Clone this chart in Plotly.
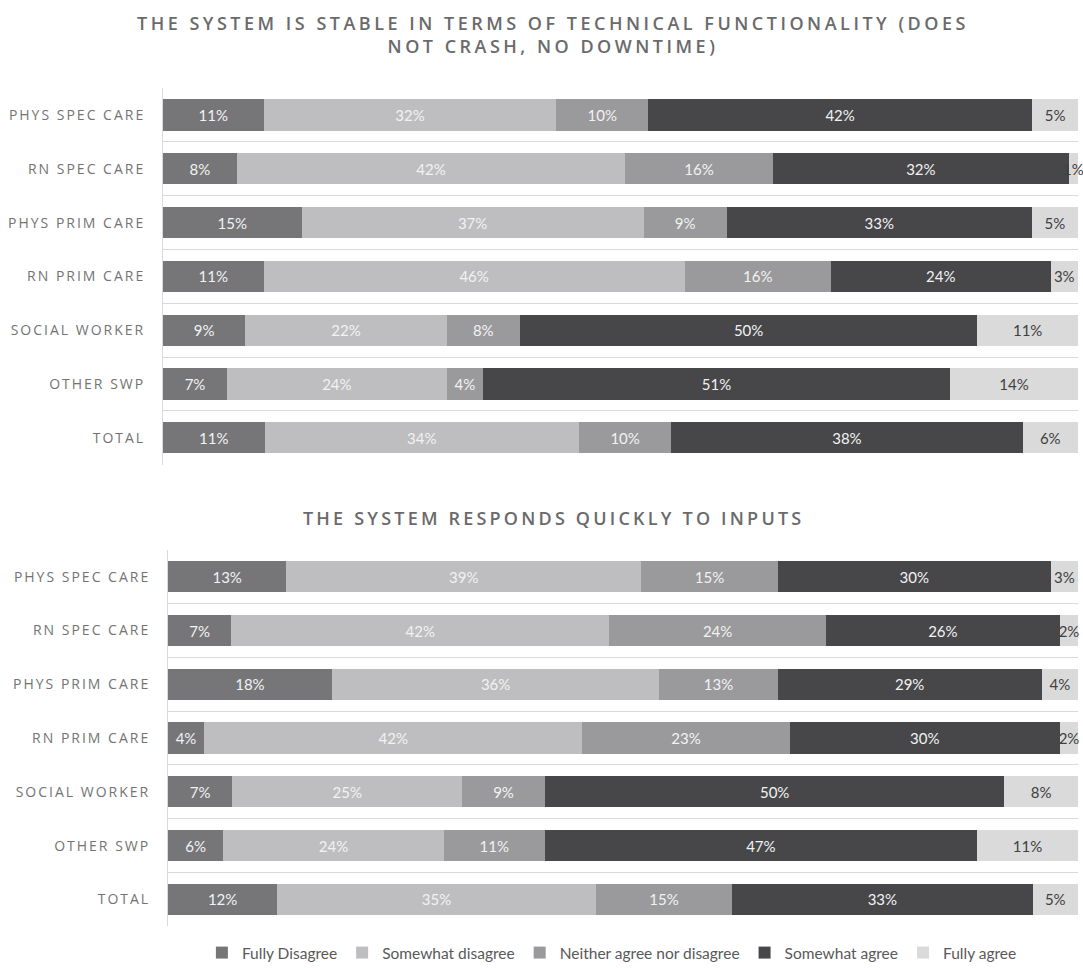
import plotly.graph_objects as go

categories = ["PHYS SPEC CARE", "RN SPEC CARE", "PHYS PRIM CARE", "RN PRIM CARE",
              "SOCIAL WORKER", "OTHER SWP", "TOTAL"]
series_names = ["Fully Disagree", "Somewhat disagree", "Neither agree nor disagree",
                "Somewhat agree", "Fully agree"]

# Panel 1: stability
stable_fully_disagree = [11, 8, 15, 11, 9, 7, 11]
stable_somewhat_disagree = [32, 42, 37, 46, 22, 24, 34]
stable_neither = [10, 16, 9, 16, 8, 4, 10]
stable_somewhat_agree = [42, 32, 33, 24, 50, 51, 38]
stable_fully_agree = [5, 1, 5, 3, 11, 14, 6]

# Panel 2: response speed
quick_fully_disagree = [13, 7, 18, 4, 7, 6, 12]
quick_somewhat_disagree = [39, 42, 36, 42, 25, 24, 35]
quick_neither = [15, 24, 13, 23, 9, 11, 15]
quick_somewhat_agree = [30, 26, 29, 30, 50, 47, 33]
quick_fully_agree = [3, 2, 4, 2, 8, 11, 5]

title1_lines = ["THE SYSTEM IS STABLE IN TERMS OF TECHNICAL FUNCTIONALITY (DOES",
                "NOT CRASH, NO DOWNTIME)"]
title2_lines = ["THE SYSTEM RESPONDS QUICKLY TO INPUTS"]

colors = ["#767679", "#bebec0", "#9a9a9c", "#47474a", "#dadada"]
text_colors = ["#f2f2f2", "#f2f2f2", "#f2f2f2", "#f2f2f2", "#404040"]

panel1 = [stable_fully_disagree, stable_somewhat_disagree, stable_neither,
          stable_somewhat_agree, stable_fully_agree]
panel2 = [quick_fully_disagree, quick_somewhat_disagree, quick_neither,
          quick_somewhat_agree, quick_fully_agree]


def spaced(s, px):
    return f'<span style="letter-spacing:{px}px">{s}</span>'


fig = go.Figure()
for axi, panel in [(1, panel1), (2, panel2)]:
    for i, (name, vals) in enumerate(zip(series_names, panel)):
        fig.add_trace(go.Bar(
            y=categories, x=vals, name=name, orientation="h",
            marker=dict(color=colors[i], line=dict(width=0)),
            text=[f"{v}%" for v in vals], textposition="inside",
            insidetextanchor="middle", constraintext="none", textangle=0,
            textfont=dict(family="Lato", size=15, color=text_colors[i]),
            legendgroup=name, showlegend=(axi == 2),
            xaxis="x" if axi == 1 else "x2", yaxis="y" if axi == 1 else "y2",
            hoverinfo="skip", cliponaxis=False,
        ))

W, H = 1083, 970


def xd(a, b):
    return [a / W, b / W]


def yd(top, bottom):
    return [(H - bottom) / H, (H - top) / H]


axis_font = dict(family="Open Sans", size=14, color="#737373")
common_x = dict(showticklabels=False, showgrid=False, zeroline=False,
                showline=False, fixedrange=True)
common_y = dict(type="category", categoryorder="array",
                categoryarray=categories, autorange="reversed",
                tickmode="array", tickvals=categories,
                ticktext=[spaced(c, 2) for c in categories],
                tickson="boundaries", showgrid=True, gridcolor="#d9d9d9",
                gridwidth=1, showline=True, linecolor="#d9d9d9", linewidth=1,
                ticks="", tickfont=axis_font, ticklabelstandoff=14,
                zeroline=False, automargin=False)

title_font = dict(family="Open Sans", size=18, color="#6a6a6c", weight=600)

fig.update_layout(
    width=W, height=H,
    margin=dict(l=0, r=0, t=0, b=0),
    paper_bgcolor="white", plot_bgcolor="white",
    barmode="stack", barnorm="percent", bargap=0.42,
    xaxis=dict(domain=xd(163, 1078), anchor="y", range=[0, 100.0001], **common_x),
    yaxis=dict(domain=yd(89, 469), anchor="x", **common_y),
    xaxis2=dict(domain=xd(168, 1078), anchor="y2", range=[0, 100.0001], **common_x),
    yaxis2=dict(domain=yd(555, 935), anchor="x2", **common_y),
    legend=dict(orientation="h", x=0.565, xanchor="center", y=8 / H,
                yanchor="middle", font=dict(family="Lato", size=15.5, color="#595959"),
                itemclick=False, itemdoubleclick=False),
    annotations=[
        dict(text="<br>".join(spaced(t, 3.5) for t in title1_lines), x=0.511,
             xref="paper", y=(H - 35) / H,
             yref="paper", xanchor="center", yanchor="middle", showarrow=False,
             font=title_font),
        dict(text="<br>".join(spaced(t, 3.2) for t in title2_lines), x=0.511,
             xref="paper", y=(H - 523) / H,
             yref="paper", xanchor="center", yanchor="middle", showarrow=False,
             font=title_font),
    ],
    showlegend=True,
)

fig.write_html(
    "out.html",
    config={"displayModeBar": False},
    post_script="document.body.style.margin='0';document.body.style.overflow='hidden';",
)
